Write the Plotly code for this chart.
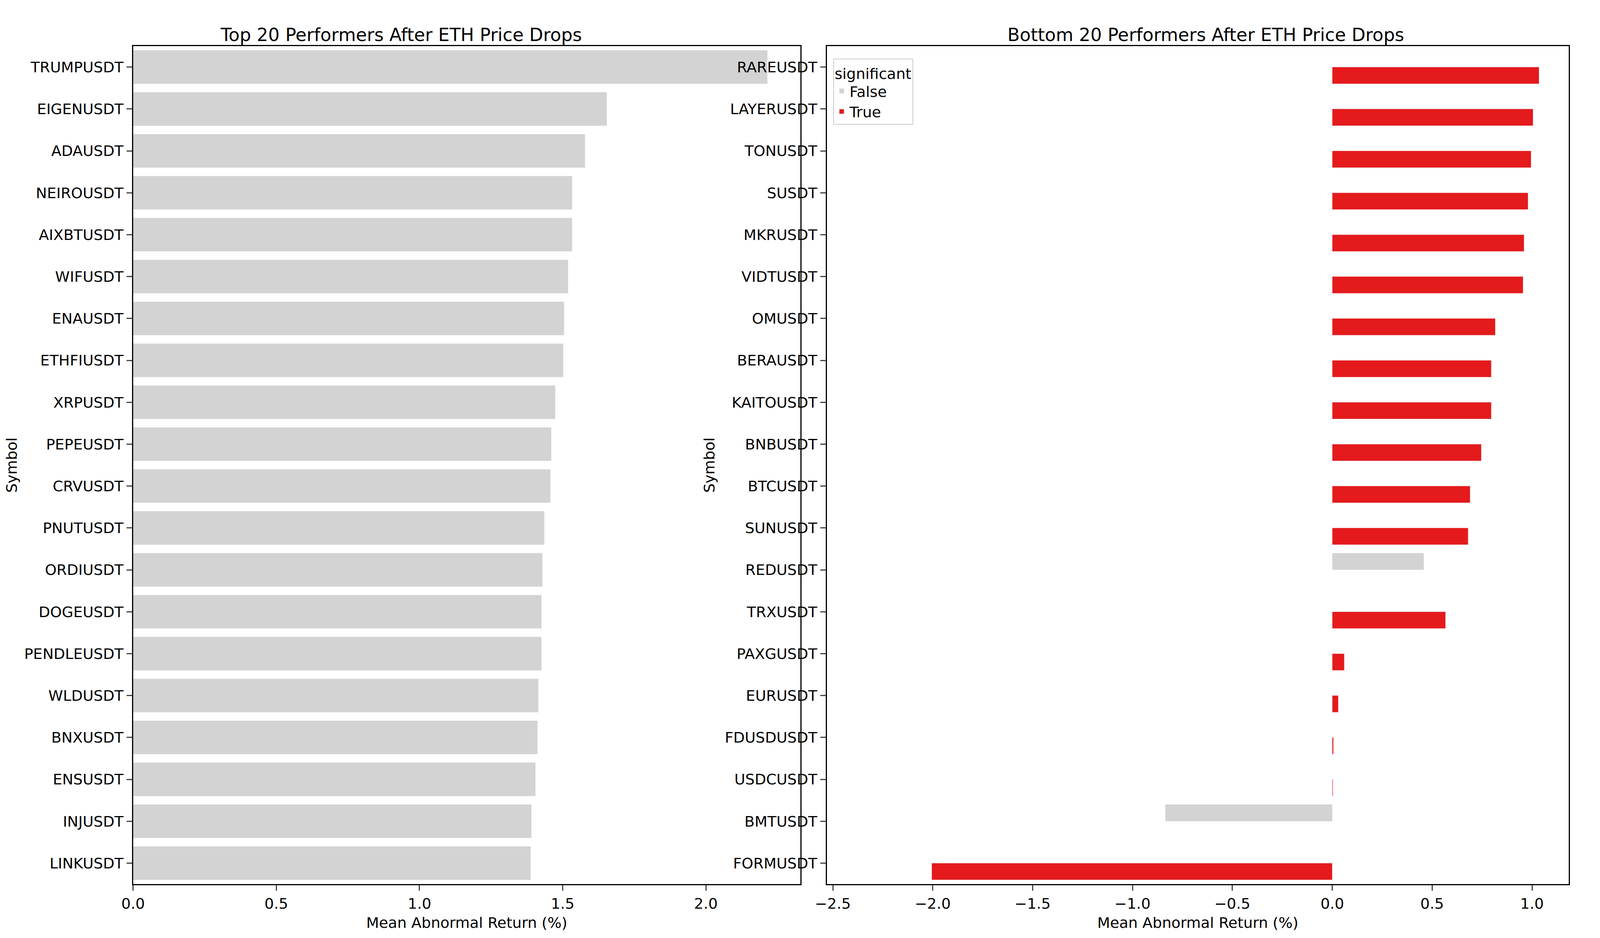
import plotly.graph_objects as go
from plotly.subplots import make_subplots

top_symbols = ["TRUMPUSDT", "EIGENUSDT", "ADAUSDT", "NEIROUSDT", "AIXBTUSDT", "WIFUSDT", "ENAUSDT",
               "ETHFIUSDT", "XRPUSDT", "PEPEUSDT", "CRVUSDT", "PNUTUSDT", "ORDIUSDT", "DOGEUSDT",
               "PENDLEUSDT", "WLDUSDT", "BNXUSDT", "ENSUSDT", "INJUSDT", "LINKUSDT"]
top_values = [2.215, 1.654, 1.578, 1.533, 1.533, 1.519, 1.505, 1.502, 1.474, 1.46,
              1.457, 1.436, 1.429, 1.426, 1.426, 1.415, 1.412, 1.405, 1.391, 1.388]

bottom_symbols = ["RAREUSDT", "LAYERUSDT", "TONUSDT", "SUSDT", "MKRUSDT", "VIDTUSDT", "OMUSDT",
                  "BERAUSDT", "KAITOUSDT", "BNBUSDT", "BTCUSDT", "SUNUSDT", "REDUSDT", "TRXUSDT",
                  "PAXGUSDT", "EURUSDT", "FDUSDUSDT", "USDCUSDT", "BMTUSDT", "FORMUSDT"]
bottom_values = [1.035, 1.005, 0.995, 0.98, 0.96, 0.955, 0.816, 0.796, 0.796, 0.746,
                 0.69, 0.68, 0.458, 0.567, 0.06, 0.03, 0.006, 0.003, -0.836, -2.005]
bottom_significant = [True] * 12 + [False] + [True] * 5 + [False, True]

GREY = "#d3d3d3"
RED = "#e41a1c"
FS = 38

fig = make_subplots(rows=1, cols=2, horizontal_spacing=0.035,
                    subplot_titles=["Top 20 Performers After ETH Price Drops",
                                    "Bottom 20 Performers After ETH Price Drops"])

fig.add_trace(go.Bar(x=top_values, y=top_symbols, orientation="h", marker_color=GREY,
                     name="True", width=0.8, legend="legend"), 1, 1)

false_x = [v if not s else None for v, s in zip(bottom_values, bottom_significant)]
true_x = [v if s else None for v, s in zip(bottom_values, bottom_significant)]
fig.add_trace(go.Bar(x=false_x, y=bottom_symbols, orientation="h", marker_color=GREY,
                     name="False", legend="legend2"), 1, 2)
fig.add_trace(go.Bar(x=true_x, y=bottom_symbols, orientation="h", marker_color=RED,
                     name="True", legend="legend2"), 1, 2)

axis_style = dict(showline=True, linecolor="black", linewidth=3, mirror=True, ticks="outside",
                  ticklen=14, tickwidth=3, showgrid=False, zeroline=False,
                  tickfont=dict(size=FS, color="black"))
fig.update_xaxes(**axis_style, title_text="Mean Abnormal Return (%)", title_font_size=FS)
fig.update_yaxes(**axis_style, autorange="reversed", title_text="Symbol", title_font_size=FS)
fig.update_xaxes(range=[0, 2.33], dtick=0.5, tickformat=".1f", row=1, col=1)
fig.update_xaxes(range=[-2.53, 1.184], dtick=0.5, tickformat=".1f", row=1, col=2)
fig.update_xaxes(domain=[0.069, 0.498], row=1, col=1)
fig.update_xaxes(domain=[0.515, 0.992], row=1, col=2)

for a in fig.layout.annotations:
    a.font = dict(size=46, color="black")

legend_style = dict(bgcolor="white", bordercolor="#cccccc", borderwidth=2,
                    font=dict(size=FS), title=dict(text="significant", font=dict(size=FS)))
fig.update_layout(
    autosize=True, plot_bgcolor="white", paper_bgcolor="white",
    font=dict(family="DejaVu Sans", color="black"),
    barmode="group", bargap=0.2, bargroupgap=0,
    margin=dict(l=20, r=40, t=110, b=130),
    legend=dict(**legend_style, x=0.495, y=0.02, xanchor="right", yanchor="bottom"),
    legend2=dict(**legend_style, x=0.519, y=0.985, xanchor="left", yanchor="top"),
)

fig.write_html("out.html", default_width="100%", default_height="100%")
